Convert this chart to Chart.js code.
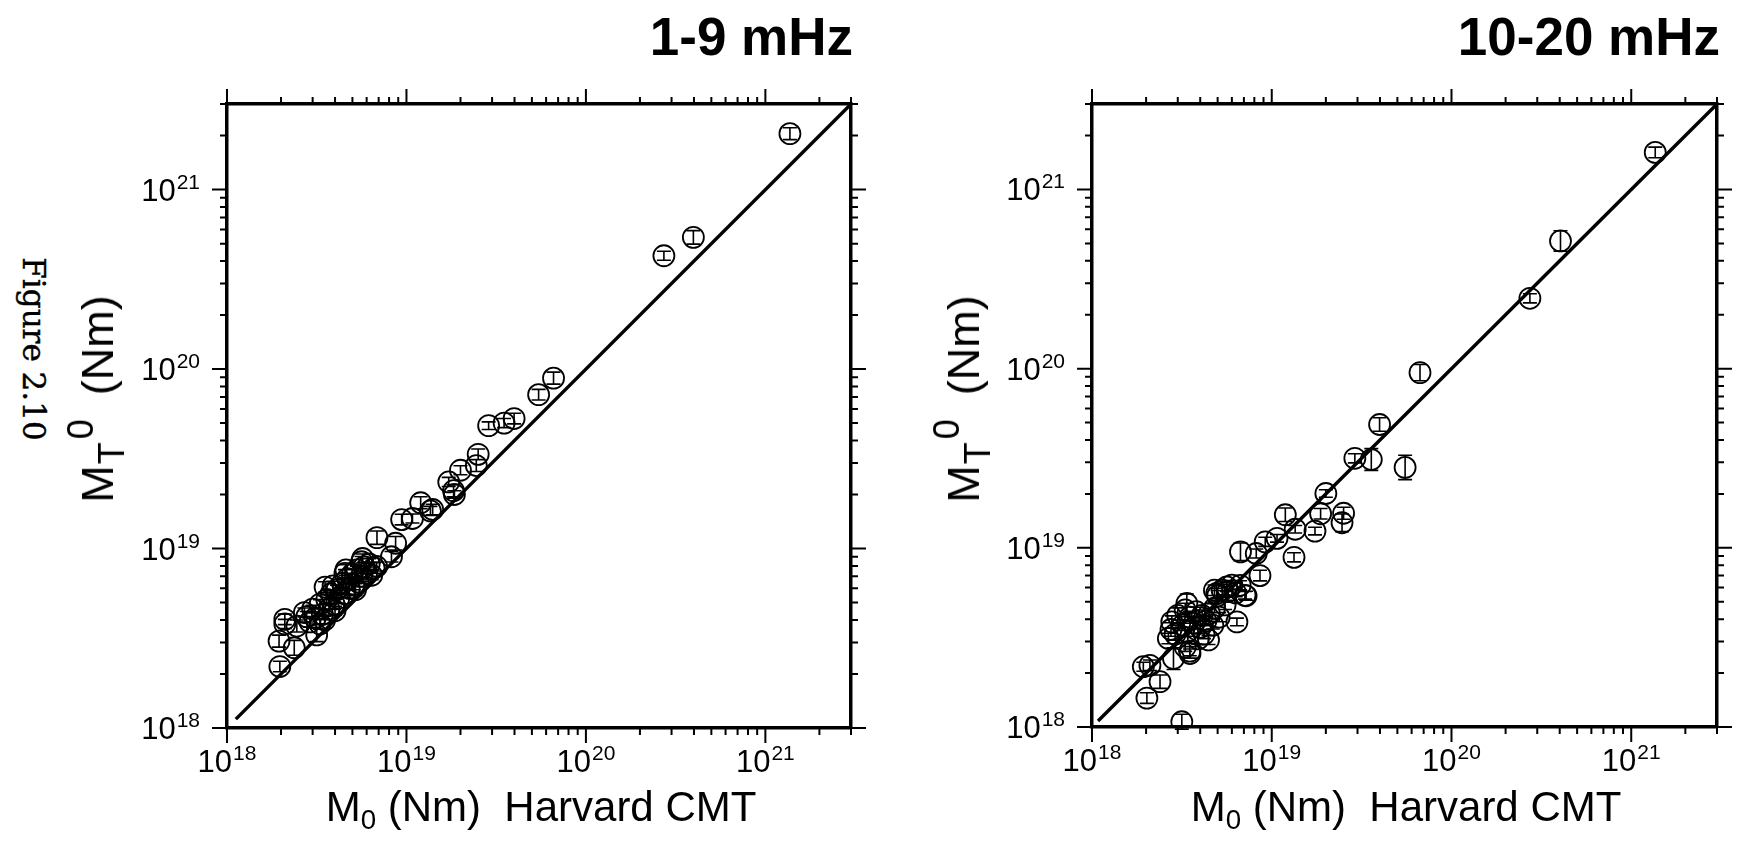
<!DOCTYPE html>
<html>
<head>
<meta charset="utf-8">
<title>Figure 2.10</title>
<script src="https://cdn.jsdelivr.net/npm/chart.js@4.4.1/dist/chart.umd.min.js"></script>
<style>
  html, body { margin: 0; padding: 0; background: #fff; }
  body { width: 1739px; height: 842px; position: relative; overflow: hidden;
         font-family: "Liberation Sans", Arial, Helvetica, sans-serif; color: #000; }
  canvas { position: absolute; top: 0; }
  .title { position: absolute; top: 10px; font-weight: bold; font-size: 53px; line-height: 53px; white-space: nowrap; }
  .xlab { position: absolute; top: 786px; font-size: 42px; line-height: 42px; white-space: pre; transform: translateX(-50%); }
  .ylab { position: absolute; top: 399px; font-size: 45px; line-height: 45px; white-space: pre;
          transform: translate(-50%, -50%) rotate(-90deg); }
  .sub { font-size: 0.66em; position: relative; top: 0.3em; }
  .ylab .sub { font-size: 0.8em; margin-left: 1px; }
  .sup { font-size: 0.8em; position: relative; top: -0.55em; margin-left: 3px; }
  .gap { margin-left: 24px; }
  .fig { position: absolute; left: 33px; top: 349px; font-family: "DejaVu Serif", "Liberation Serif", serif;
         font-size: 31px; line-height: 31px; white-space: nowrap; -webkit-text-stroke: 0.4px #000;
         transform: translate(-50%, -50%) rotate(90deg); }
</style>
</head>
<body>
<div class="fig">Figure 2.10</div>

<canvas id="low" width="870" height="842" style="left:0"></canvas>
<canvas id="high" width="869" height="842" style="left:870px"></canvas>

<div class="title" style="right:886px">1-9 mHz</div>
<div class="title" style="right:19px">10-20 mHz</div>

<div class="xlab" style="left:541px">M<span class="sub">0</span> (Nm)  Harvard CMT</div>
<div class="xlab" style="left:1406px">M<span class="sub">0</span> (Nm)  Harvard CMT</div>

<div class="ylab" style="left:99px">M<span class="sub">T</span><span class="sup">0</span><span class="gap">(Nm)</span></div>
<div class="ylab" style="left:965px">M<span class="sub">T</span><span class="sup">0</span><span class="gap">(Nm)</span></div>

<script>
// axis range and tick labels (powers of ten) for both panels
const axisMin = 1e18, axisMax = 3e21;
const decades = [18, 19, 20, 21];
const minorSteps = [2, 3, 4, 5, 6, 7, 8, 9];

// 1-9 mHz: Harvard CMT moment vs. inverted moment, relative error
const lowX = [1.37e21, 3.97e20, 2.72e20, 6.6e19, 5.45e19, 3.98e19, 3.5e19, 2.87e19, 2.51e19, 2.45e19,
              2.0e19, 1.85e19, 1.72e19, 1.83e19, 1.4e19, 1.36e19, 1.2e19, 1.08e19, 9.4e18, 8.7e18,
              8.25e18, 6.85e18, 6.82e18, 5.62e18, 4.54e18, 3.52e18, 3.16e18, 2.78e18, 2.45e18, 2.37e18,
              2.1e18, 2.1e18, 1.97e18, 1.95e18, 2.7e18, 2.9e18, 3.0e18, 3.1e18, 3.3e18, 3.4e18,
              3.6e18, 3.7e18, 3.8e18, 3.95e18, 4.1e18, 4.2e18, 4.4e18, 4.5e18, 4.7e18, 4.8e18,
              5.0e18, 5.1e18, 5.3e18, 5.4e18, 5.6e18, 5.8e18, 6.0e18, 6.2e18, 6.4e18, 4.6e18,
              3.5e18, 3.3e18, 4.0e18, 5.2e18, 5.7e18, 6.6e18, 3.9e18];
const lowY = [2.05e21, 5.42e20, 4.28e20, 8.9e19, 7.2e19, 5.3e19, 5.0e19, 4.84e19, 3.35e19, 2.9e19,
              2.73e19, 2.0e19, 2.35e19, 2.1e19, 1.65e19, 1.62e19, 1.8e19, 1.47e19, 1.45e19, 1.07e19,
              9.0e18, 1.15e19, 7.94e18, 8.44e18, 7.27e18, 6.1e18, 3.3e18, 4.17e18, 3.7e18, 2.8e18,
              4.03e18, 3.8e18, 2.2e18, 3.05e18, 4.4e18, 3.9e18, 4.6e18, 4.1e18, 4.9e18, 4.3e18,
              5.2e18, 4.6e18, 5.6e18, 4.9e18, 5.9e18, 5.3e18, 6.4e18, 5.6e18, 6.8e18, 6.0e18,
              7.2e18, 6.3e18, 7.6e18, 6.5e18, 7.0e18, 7.9e18, 7.3e18, 8.2e18, 7.1e18, 7.6e18,
              4.0e18, 3.8e18, 4.5e18, 5.9e18, 8.8e18, 7.8e18, 6.2e18];
const lowErr = [0.08, 0.09, 0.06, 0.08, 0.07, 0.07, 0.06, 0.05, 0.07, 0.08,
                0.06, 0.05, 0.06, 0.08, 0.07, 0.06, 0.08, 0.06, 0.07, 0.09,
                0.07, 0.09, 0.06, 0.07, 0.05, 0.07, 0.09, 0.07, 0.08, 0.1,
                0.07, 0.06, 0.07, 0.08, 0.06, 0.07, 0.05, 0.08, 0.06, 0.07,
                0.06, 0.08, 0.05, 0.07, 0.06, 0.07, 0.06, 0.05, 0.07, 0.08,
                0.06, 0.07, 0.05, 0.06, 0.07, 0.06, 0.08, 0.07, 0.06, 0.07,
                0.05, 0.07, 0.06, 0.08, 0.06, 0.07, 0.06];

// 10-20 mHz
const highX = [1.36e21, 4.04e20, 2.73e20, 6.68e19, 3.98e19, 2.9e19, 3.58e19, 5.52e19, 2.0e19, 1.19e19,
               1.87e19, 1.74e19, 2.51e19, 2.46e19, 1.35e19, 1.07e19, 9.2e18, 1.33e19, 6.7e18, 8.2e18,
               8.6e18, 7.2e18, 6.4e18, 2.02e18, 1.93e18, 2.1e18, 2.39e18, 2.84e18, 3.16e18, 2.66e18,
               2.78e18, 3.37e18, 3.51e18, 4.45e18, 4.94e18, 5.62e18, 7.1e18, 6.67e18, 2.9e18, 3.0e18,
               3.2e18, 3.3e18, 3.4e18, 3.5e18, 3.5e18, 3.7e18, 3.8e18, 4.0e18, 4.1e18, 4.3e18,
               4.5e18, 4.7e18, 4.8e18, 5.0e18, 5.1e18, 5.3e18, 5.5e18, 5.7e18, 6.0e18, 6.3e18,
               3.9e18, 4.2e18, 2.75e18, 3.3e18, 4.8e18];
const highY = [1.61e21, 5.16e20, 2.47e20, 9.5e19, 4.88e19, 3.16e19, 3.11e19, 2.81e19, 2.01e19, 1.53e19,
               1.55e19, 1.24e19, 1.56e19, 1.38e19, 1.27e19, 1.13e19, 1.08e19, 8.85e18, 9.5e18, 9.3e18,
               7.0e18, 5.4e18, 3.86e18, 1.45e18, 2.17e18, 2.21e18, 1.79e18, 2.41e18, 1.07e18, 3.12e18,
               3.86e18, 4.89e18, 2.57e18, 3.06e18, 5.56e18, 6.05e18, 5.43e18, 6.18e18, 3.3e18, 4.2e18,
               3.7e18, 4.5e18, 3.4e18, 4.1e18, 2.65e18, 3.8e18, 4.4e18, 3.6e18, 4.2e18, 3.9e18,
               4.3e18, 3.7e18, 4.6e18, 5.4e18, 4.1e18, 5.8e18, 4.8e18, 5.7e18, 6.2e18, 5.6e18,
               3.1e18, 3.3e18, 3.5e18, 2.8e18, 5.8e18];
const highErr = [0.07, 0.14, 0.06, 0.11, 0.09, 0.06, 0.15, 0.17, 0.05, 0.09,
                 0.07, 0.05, 0.08, 0.12, 0.05, 0.05, 0.06, 0.06, 0.12, 0.06,
                 0.07, 0.06, 0.05, 0.07, 0.06, 0.07, 0.09, 0.15, 0.1, 0.07,
                 0.08, 0.13, 0.06, 0.06, 0.07, 0.06, 0.05, 0.06, 0.08, 0.1,
                 0.07, 0.09, 0.06, 0.08, 0.06, 0.07, 0.06, 0.08, 0.07, 0.06,
                 0.07, 0.05, 0.06, 0.07, 0.06, 0.08, 0.06, 0.07, 0.06, 0.05,
                 0.07, 0.06, 0.09, 0.06, 0.07];

// 1:1 reference line end points
const lowLine = [1.12e18, 3e21];
const highLine = [1.08e18, 3e21];

// tick positions: long at powers of ten, short in between
const tickList = [];
decades.forEach(d => {
  tickList.push({ v: 10 ** d, major: true });
  minorSteps.forEach(m => {
    const v = m * 10 ** d;
    if (v <= axisMax * 1.0001) tickList.push({ v, major: false });
  });
});

const BASE_FONT = '31px "Liberation Sans", Arial, sans-serif';
const EXP_FONT = '21px "Liberation Sans", Arial, sans-serif';

const drawPower = (ctx, exp, x, base, align) => {
  ctx.font = BASE_FONT;
  const w1 = ctx.measureText('10').width;
  ctx.font = EXP_FONT;
  const w2 = ctx.measureText(String(exp)).width;
  const total = w1 + 1 + w2;
  const left = align === 'center' ? x - total / 2 : x - total;
  ctx.textAlign = 'left';
  ctx.textBaseline = 'alphabetic';
  ctx.font = BASE_FONT;
  ctx.fillText('10', left, base);
  ctx.font = EXP_FONT;
  ctx.fillText(String(exp), left + w1 + 1, base - 12);
};

const panelDecor = {
  id: 'panelDecor',
  afterDatasetsDraw(chart) {
    // vertical error bars with caps
    const ds = chart.data.datasets[1];
    const sx = chart.scales.x, sy = chart.scales.y;
    const ctx = chart.ctx;
    ctx.save();
    ctx.strokeStyle = '#000';
    ctx.lineWidth = 1.6;
    ctx.beginPath();
    ds.data.forEach((p, i) => {
      const e = ds.errors[i];
      const px = sx.getPixelForValue(p.x);
      const top = sy.getPixelForValue(p.y * (1 + e));
      const bot = sy.getPixelForValue(p.y / (1 + e));
      ctx.moveTo(px, top); ctx.lineTo(px, bot);
      ctx.moveTo(px - 7, top); ctx.lineTo(px + 7, top);
      ctx.moveTo(px - 7, bot); ctx.lineTo(px + 7, bot);
    });
    ctx.stroke();
    ctx.restore();
  },
  afterDraw(chart) {
    const ctx = chart.ctx, a = chart.chartArea;
    const sx = chart.scales.x, sy = chart.scales.y;
    ctx.save();
    ctx.strokeStyle = '#000';
    ctx.lineWidth = 2;
    ctx.beginPath();
    tickList.forEach(t => {
      const len = t.major ? 15 : 7;
      const px = sx.getPixelForValue(t.v), py = sy.getPixelForValue(t.v);
      ctx.moveTo(px, a.bottom); ctx.lineTo(px, a.bottom + len);
      ctx.moveTo(px, a.top); ctx.lineTo(px, a.top - len);
      ctx.moveTo(a.left, py); ctx.lineTo(a.left - len, py);
      ctx.moveTo(a.right, py); ctx.lineTo(a.right + len, py);
    });
    ctx.stroke();
    ctx.fillStyle = '#000';
    decades.forEach(d => {
      const v = 10 ** d;
      drawPower(ctx, d, sx.getPixelForValue(v), a.bottom + 44, 'center');
      drawPower(ctx, d, a.left - 27, sy.getPixelForValue(v) + 11, 'right');
    });
    ctx.restore();
  }
};

const logAxis = position => ({
  type: 'logarithmic', position, min: axisMin, max: axisMax,
  ticks: { display: false },
  grid: { display: false, drawTicks: false },
  border: { display: true, width: 3.5, color: '#000' }
});

const makePanel = (id, xs, ys, errs, line, padding) => new Chart(document.getElementById(id), {
  type: 'scatter',
  data: {
    datasets: [
      { data: line.map(v => ({ x: v, y: v })), showLine: true, borderColor: '#000', borderWidth: 3.4,
        pointRadius: 0 },
      { data: xs.map((x, i) => ({ x, y: ys[i] })), errors: errs, pointStyle: 'circle', pointRadius: 10.5,
        borderColor: '#000', borderWidth: 1.8, backgroundColor: 'rgba(0,0,0,0)' }
    ]
  },
  options: {
    responsive: false, animation: false, events: [],
    layout: { padding },
    plugins: { legend: { display: false }, tooltip: { enabled: false } },
    scales: { x: logAxis('bottom'), x2: logAxis('top'), y: logAxis('left'), y2: logAxis('right') }
  },
  plugins: [panelDecor]
});

makePanel('low', lowX, lowY, lowErr, lowLine, { left: 227, right: 19, top: 104, bottom: 114 });
makePanel('high', highX, highY, highErr, highLine, { left: 222, right: 22, top: 104, bottom: 115 });
</script>
</body>
</html>
